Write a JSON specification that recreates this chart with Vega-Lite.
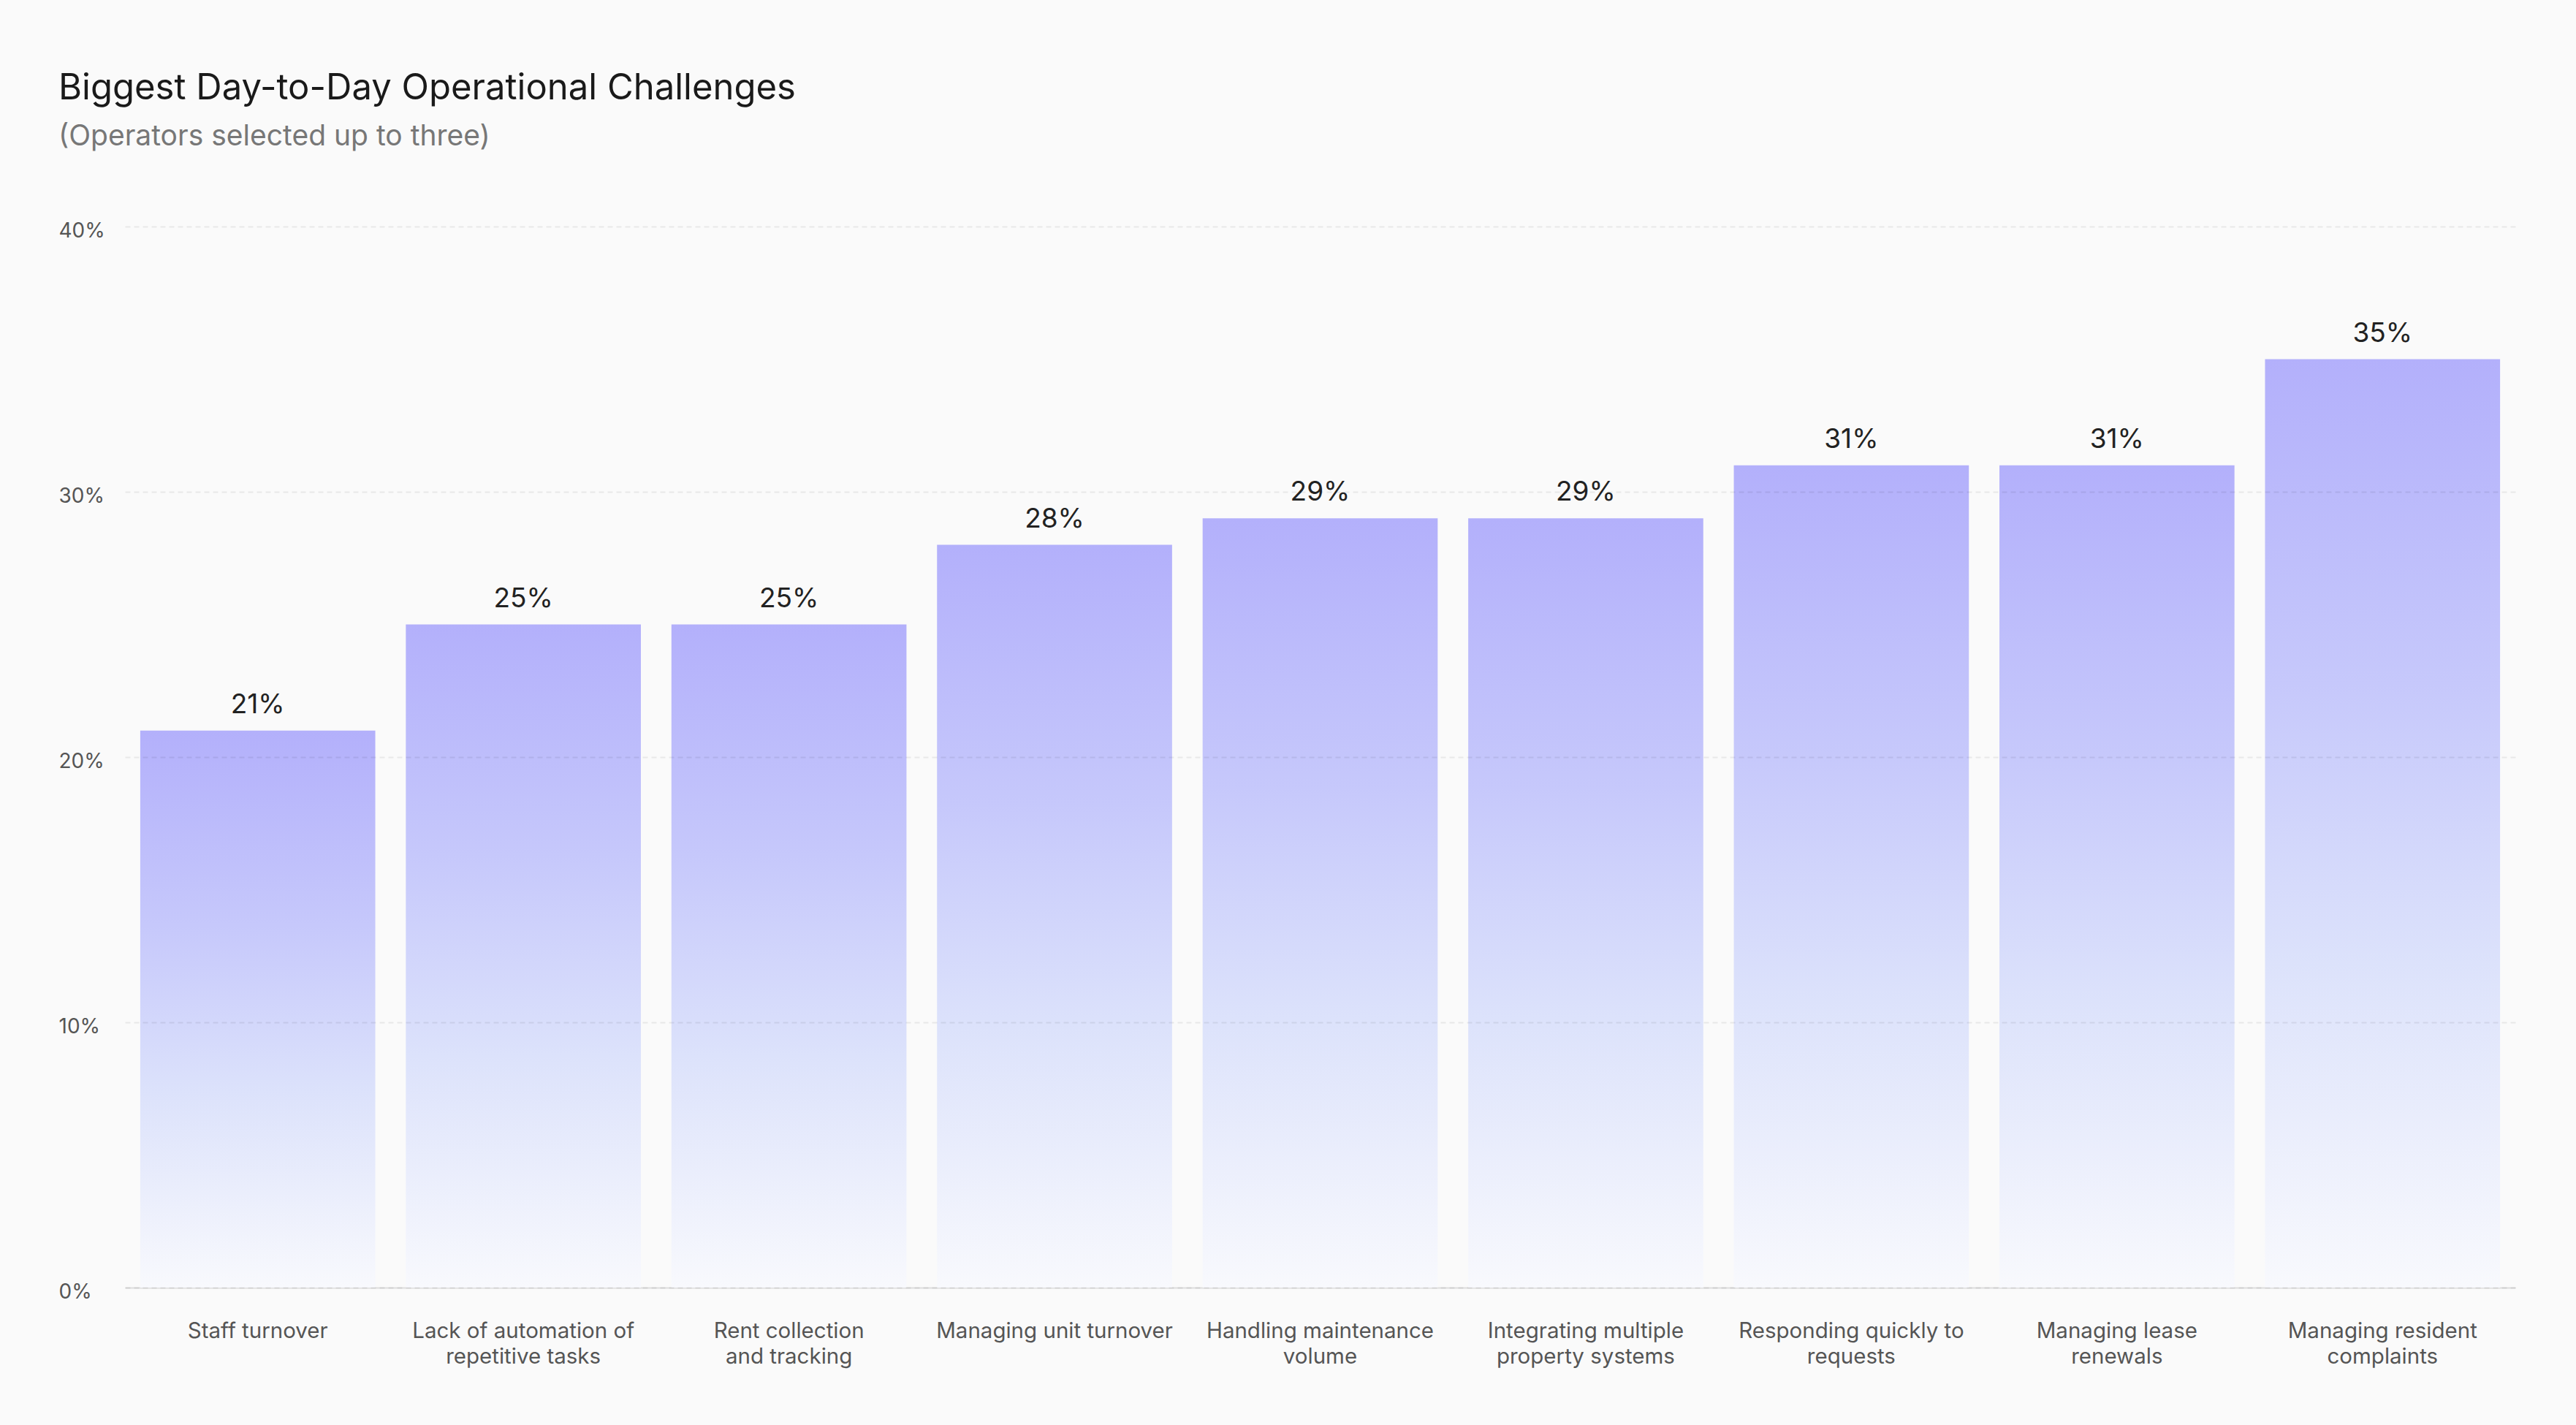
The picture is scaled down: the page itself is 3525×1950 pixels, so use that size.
{
  "$schema": "https://vega.github.io/schema/vega-lite/v6.json",
  "autosize": {"type": "none"},
  "width": 3271,
  "height": 1452,
  "padding": {"left": 171, "top": 310, "right": 83, "bottom": 188},
  "background": "#fafafa",
  "title": {
    "text": "Biggest Day-to-Day Operational Challenges",
    "subtitle": "(Operators selected up to three)",
    "anchor": "start",
    "frame": "bounds",
    "font": "Inter",
    "fontSize": 49,
    "fontWeight": 400,
    "color": "#1a1a1a",
    "subtitleFont": "Inter",
    "subtitleFontSize": 39,
    "subtitleColor": "#777777",
    "subtitlePadding": 22,
    "offset": 95
  },
  "data": {
    "values": [
      {"challenge": "Staff turnover", "share": 0.21},
      {"challenge": "Lack of automation of\nrepetitive tasks", "share": 0.25},
      {"challenge": "Rent collection\nand tracking", "share": 0.25},
      {"challenge": "Managing unit turnover", "share": 0.28},
      {"challenge": "Handling maintenance\nvolume", "share": 0.29},
      {"challenge": "Integrating multiple\nproperty systems", "share": 0.29},
      {"challenge": "Responding quickly to\nrequests", "share": 0.31},
      {"challenge": "Managing lease\nrenewals", "share": 0.31},
      {"challenge": "Managing resident\ncomplaints", "share": 0.35}
    ]
  },
  "encoding": {
    "x": {
      "field": "challenge",
      "type": "nominal",
      "sort": null,
      "scale": {"paddingInner": 0.115, "paddingOuter": 0.0575},
      "axis": {
        "title": null,
        "labelAngle": 0,
        "labelExpr": "split(datum.label, '\\n')",
        "labelFont": "Inter",
        "labelFontSize": 29.5,
        "labelColor": "#555555",
        "labelLineHeight": 35,
        "labelPadding": 45,
        "labelLimit": 0,
        "ticks": false,
        "domainColor": "#dddddd",
        "domainWidth": 2,
        "grid": false
      }
    },
    "y": {
      "field": "share",
      "type": "quantitative",
      "scale": {"domain": [0, 0.4]},
      "axis": {
        "title": null,
        "format": ".0%",
        "values": [0, 0.1, 0.2, 0.3, 0.4],
        "labelFont": "Inter",
        "labelFontSize": 28,
        "labelColor": "#555555",
        "labelAlign": "left",
        "labelPadding": 91,
        "labelOffset": 6,
        "ticks": false,
        "domain": false,
        "grid": true,
        "gridColor": "#000000",
        "gridOpacity": 0.07,
        "gridDash": [7, 5],
        "gridWidth": 2,
        "zindex": 1
      }
    }
  },
  "layer": [
    {
      "mark": {
        "type": "bar",
        "y2Offset": -12,
        "color": {
          "gradient": "linear",
          "x1": 0, "y1": 0, "x2": 0, "y2": 1,
          "stops": [
            {"offset": 0, "color": "#b3b0fb"},
            {"offset": 0.35, "color": "#c6c8fb"},
            {"offset": 0.65, "color": "#dce2fb"},
            {"offset": 1, "color": "#f8f9fd"}
          ]
        }
      }
    },
    {
      "mark": {
        "type": "text",
        "baseline": "alphabetic",
        "dy": -24,
        "font": "Inter",
        "fontSize": 37,
        "color": "#222222"
      },
      "encoding": {
        "text": {"field": "share", "type": "quantitative", "format": ".0%"}
      }
    }
  ],
  "config": {"view": {"stroke": null}}
}
